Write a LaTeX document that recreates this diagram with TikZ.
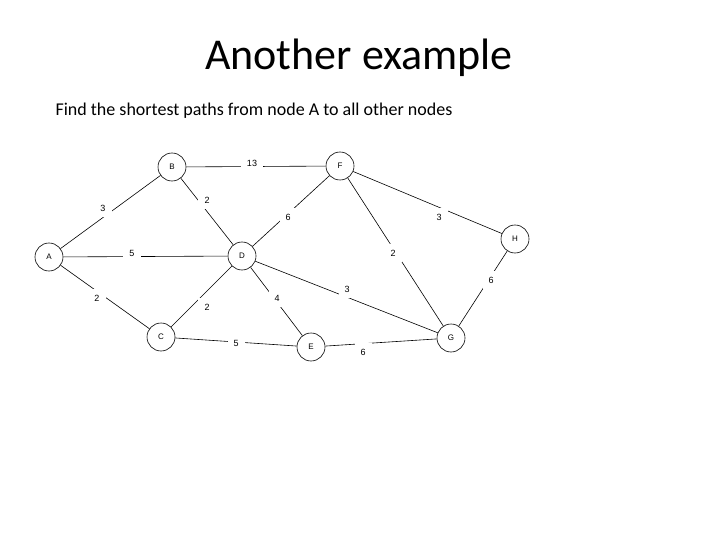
\documentclass[tikz,border=0pt]{standalone}
\usepackage{fontspec}
\setmainfont{Carlito}
\newfontfamily\arialf{Liberation Sans}
\begin{document}
\begin{tikzpicture}[x=1pt,y=-1pt,
  vert/.style={circle,draw,line width=0.6pt,minimum size=28pt,inner sep=0pt,font=\arialf\fontsize{8}{9}\selectfont},
  wt/.style={fill=white,inner sep=6pt,font=\arialf\fontsize{9}{10}\selectfont},
  edge/.style={line width=0.6pt}]
\useasboundingbox[fill=white] (0,0) rectangle (720,540);
\node (title) at (359,58) {\fontsize{44}{50}\selectfont Another example};
\node (sub) at (254,111) {\fontsize{18}{22}\selectfont Find the shortest paths from node A to all other nodes};
\node[vert] (A) at (49,257) {A};
\node[vert] (B) at (172,167) {B};
\node[vert] (F) at (340,166) {F};
\node[vert] (H) at (515,239) {H};
\node[vert] (D) at (242,256) {D};
\node[vert] (C) at (161,337) {C};
\node[vert] (E) at (311,347) {E};
\node[vert] (G) at (451,338) {G};
\foreach \a/\b in {A/B,A/D,A/C,B/F,B/D,D/F,F/H,F/G,H/G,D/G,D/E,C/D,C/E,E/G}
  \draw[edge] (\a) -- (\b);
\node[wt] (w1) at (252,163) {13};
\node[wt] (w2) at (103,208) {3};
\node[wt] (w3) at (207,200) {2};
\node[wt] (w4) at (288,217) {6};
\node[wt] (w5) at (439,217) {3};
\node[wt] (w6) at (132,253) {5};
\node[wt] (w7) at (393,253) {2};
\node[wt] (w8) at (491,280) {6};
\node[wt] (w9) at (347,289) {3};
\node[wt] (w10) at (277,298) {4};
\node[wt] (w11) at (97,298) {2};
\node[wt] (w12) at (207,307) {2};
\node[wt] (w13) at (236,343) {5};
\node[wt] (w14) at (363,352) {6};
\end{tikzpicture}
\end{document}
